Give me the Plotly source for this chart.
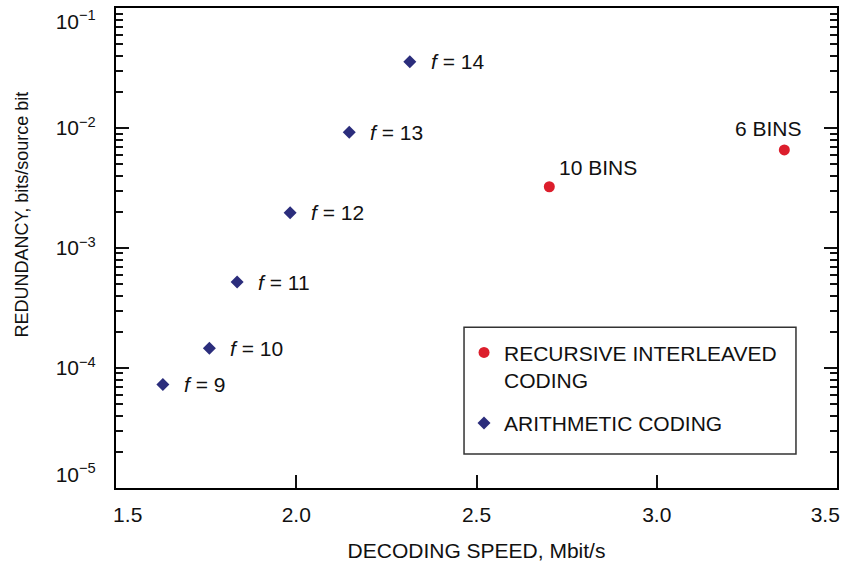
import math
import plotly.graph_objects as go

# ---- data ----
arith_f = [9, 10, 11, 12, 13, 14]
arith_speed = [1.630, 1.759, 1.836, 1.983, 2.147, 2.315]
arith_redund = [7.3e-5, 1.46e-4, 5.2e-4, 1.97e-3, 9.2e-3, 3.57e-2]

ric_bins = [10, 6]
ric_speed = [2.702, 3.354]
ric_redund = [3.24e-3, 6.56e-3]

x_ticks = [1.5, 2.0, 2.5, 3.0, 3.5]
x_ticktext = ["\u2007\u20071.5", "2.0", "2.5", "3.0", "3.5\u2007\u2007"]
y_ticks = [1e-5, 1e-4, 1e-3, 1e-2, 1e-1]
y_ticktext = ["10<sup>\u22125</sup><br>\u00a0", "10<sup>\u22124</sup>", "10<sup>\u22123</sup>",
              "10<sup>\u22122</sup>", "\u00a0<br>10<sup>\u22121</sup>"]

FONT = "Liberation Sans, Arial, Helvetica, sans-serif"
TXT = "#111111"
NAVY = "#2b2d7c"
RED = "#dc1e2c"
FS = 21

fig = go.Figure()
fig.add_trace(go.Scatter(
    x=ric_speed, y=ric_redund, mode="markers",
    name="RECURSIVE INTERLEAVED<br>CODING", legendgroup="ric",
    marker=dict(symbol="circle", size=11, color=RED, line=dict(width=0)),
))
fig.add_trace(go.Scatter(
    x=arith_speed, y=arith_redund, mode="markers",
    name="ARITHMETIC CODING", legendgroup="ac",
    marker=dict(symbol="diamond", size=10, color=NAVY, line=dict(width=0)),
))

annotations = []
for f, xs, ys in zip(arith_f, arith_speed, arith_redund):
    annotations.append(dict(
        x=xs, y=math.log10(ys), xref="x", yref="y", yanchor="middle", xanchor="left",
        text=f"<i>f</i> = {f}", showarrow=False, xshift=19,
        font=dict(family=FONT, size=FS, color=TXT)))
annotations.append(dict(
    x=ric_speed[0], y=math.log10(ric_redund[0]), xref="x", yref="y", xanchor="left",
    yanchor="middle", text=f"{ric_bins[0]} BINS", showarrow=False,
    xshift=8, yshift=19, font=dict(family=FONT, size=FS, color=TXT)))
annotations.append(dict(
    x=ric_speed[1], y=math.log10(ric_redund[1]), xref="x", yref="y", xanchor="center",
    yanchor="middle", text=f"{ric_bins[1]} BINS", showarrow=False,
    xshift=-16, yshift=21, font=dict(family=FONT, size=FS, color=TXT)))
# y-axis title (placed slightly above centre, as in the reference)
annotations.append(dict(
    x=0, y=0.57, xref="paper", yref="paper", xanchor="center", yanchor="middle",
    xshift=-94, text="REDUNDANCY, bits/source bit", textangle=-90, showarrow=False,
    font=dict(family=FONT, size=18, color=TXT)))

fig.update_layout(
    width=844, height=563,
    margin=dict(l=116, r=7, t=8, b=75, autoexpand=False),
    paper_bgcolor="white", plot_bgcolor="white",
    font=dict(family=FONT, size=FS, color=TXT),
    showlegend=True,
    legend=dict(
        x=0.4827, y=0.3245, xanchor="left", yanchor="top",
        bgcolor="rgba(0,0,0,0)", borderwidth=0,
        font=dict(family=FONT, size=FS, color=TXT),
        traceorder="grouped", tracegroupgap=13, itemwidth=30, valign="top",
    ),
    annotations=annotations,
    shapes=[dict(type="rect", xref="paper", yref="paper",
                 x0=0.4827, x1=0.9431, y0=0.0708, y1=0.335,
                 line=dict(color="#333333", width=1.5))],
)

fig.update_xaxes(
    range=[1.4999, 3.5001], tickvals=x_ticks, ticktext=x_ticktext,
    ticks="inside", ticklen=13, tickwidth=1.5, tickcolor="#111111",
    showline=True, linecolor="#000000", linewidth=2, mirror=True,
    showgrid=False, zeroline=False, automargin=False,
    ticklabelstandoff=7, ticklabeloverflow="allow",
    title=dict(text="DECODING SPEED, Mbit/s", standoff=18,
               font=dict(family=FONT, size=FS, color=TXT)),
    tickfont=dict(family=FONT, size=FS, color=TXT),
)
fig.update_yaxes(
    type="log", range=[-5.0001, -0.9999], tickvals=y_ticks, ticktext=y_ticktext,
    ticks="inside", ticklen=13, tickwidth=1.5, tickcolor="#111111",
    minor=dict(ticks="inside", ticklen=7, tickwidth=1.5, tickcolor="#111111",
               dtick="D1", showgrid=False),
    showline=True, linecolor="#000000", linewidth=2, mirror="ticks",
    showgrid=False, zeroline=False, automargin=False,
    ticklabelstandoff=14, ticklabeloverflow="allow",
    tickfont=dict(family=FONT, size=FS, color=TXT),
)

fig.write_html("out.html")
